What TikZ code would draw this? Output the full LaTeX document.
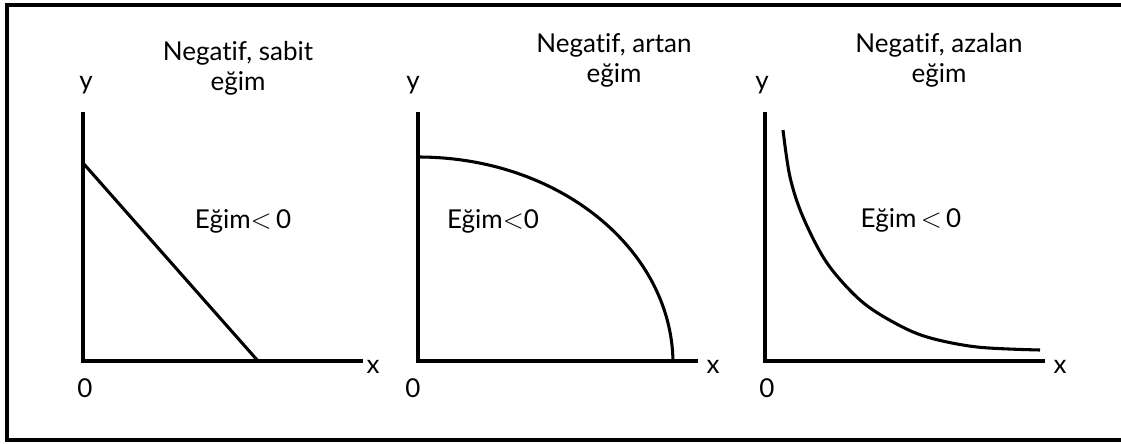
\documentclass[tikz,border=0pt]{standalone}
\usepackage{fontspec}
\setmainfont{Lato}[Ligatures={NoCommon,NoRare}]
\begin{document}
\begin{tikzpicture}[x=0.75pt,y=-0.75pt,
  lbl/.style={font=\fontsize{19.5}{23}\selectfont, inner sep=0pt, anchor=base},
  axis/.style={line width=2.5pt},
  curve/.style={line width=2.3pt}]
\useasboundingbox (0,0) rectangle (1121,443);
\draw[line width=2.5pt] (7,5) rectangle (1140,440);
% panel 1
\coordinate (O1) at (83,361); \coordinate (Y1) at (83,112); \coordinate (X1) at (363,361);
\coordinate (A1) at (83,163); \coordinate (B1) at (258,361);
\draw[axis] (Y1) -- (O1) -- (X1);
\draw[curve] (A1) -- (B1);
\node[lbl] (y1) at (86,89) {y};
\node[lbl] (x1) at (373,373) {x};
\node[lbl] (z1) at (85,397) {0};
\node[lbl] (t1a) at (238,60) {Negatif, sabit};
\node[lbl] (t1b) at (238,90) {eğim};
\node[lbl] (e1) at (243,228) {Eğim$<$\,0};
% panel 2
\coordinate (O2) at (418,361); \coordinate (Y2) at (418,112); \coordinate (X2) at (698,361);
\coordinate (A2) at (418,157); \coordinate (B2) at (673,361);
\draw[axis] (Y2) -- (O2) -- (X2);
\draw[curve] (A2) .. controls (559,157) and (671,249) .. (B2);
\node[lbl] (y2) at (413,89) {y};
\node[lbl] (x2) at (713,373) {x};
\node[lbl] (z2) at (413,397) {0};
\node[lbl] (t2a) at (614,52) {Negatif, artan};
\node[lbl] (t2b) at (614,82) {eğim};
\node[lbl] (e2) at (493,228) {Eğim$<$0};
% panel 3
\coordinate (O3) at (765,361); \coordinate (Y3) at (765,112); \coordinate (X3) at (1045,361);
\draw[axis] (Y3) -- (O3) -- (X3);
\draw[curve] plot[smooth, tension=0.55] coordinates {(783,130) (790,177) (803,217) (827,263) (860,300) (893,322) (927,337) (977,347) (1040,350)};
\node[lbl] (y3) at (762,89) {y};
\node[lbl] (x3) at (1060,373) {x};
\node[lbl] (z3) at (767,397) {0};
\node[lbl] (t3a) at (939,52) {Negatif, azalan};
\node[lbl] (t3b) at (939,82) {eğim};
\node[lbl] (e3) at (911,227) {Eğim\,$<$\,0};
\end{tikzpicture}
\end{document}
